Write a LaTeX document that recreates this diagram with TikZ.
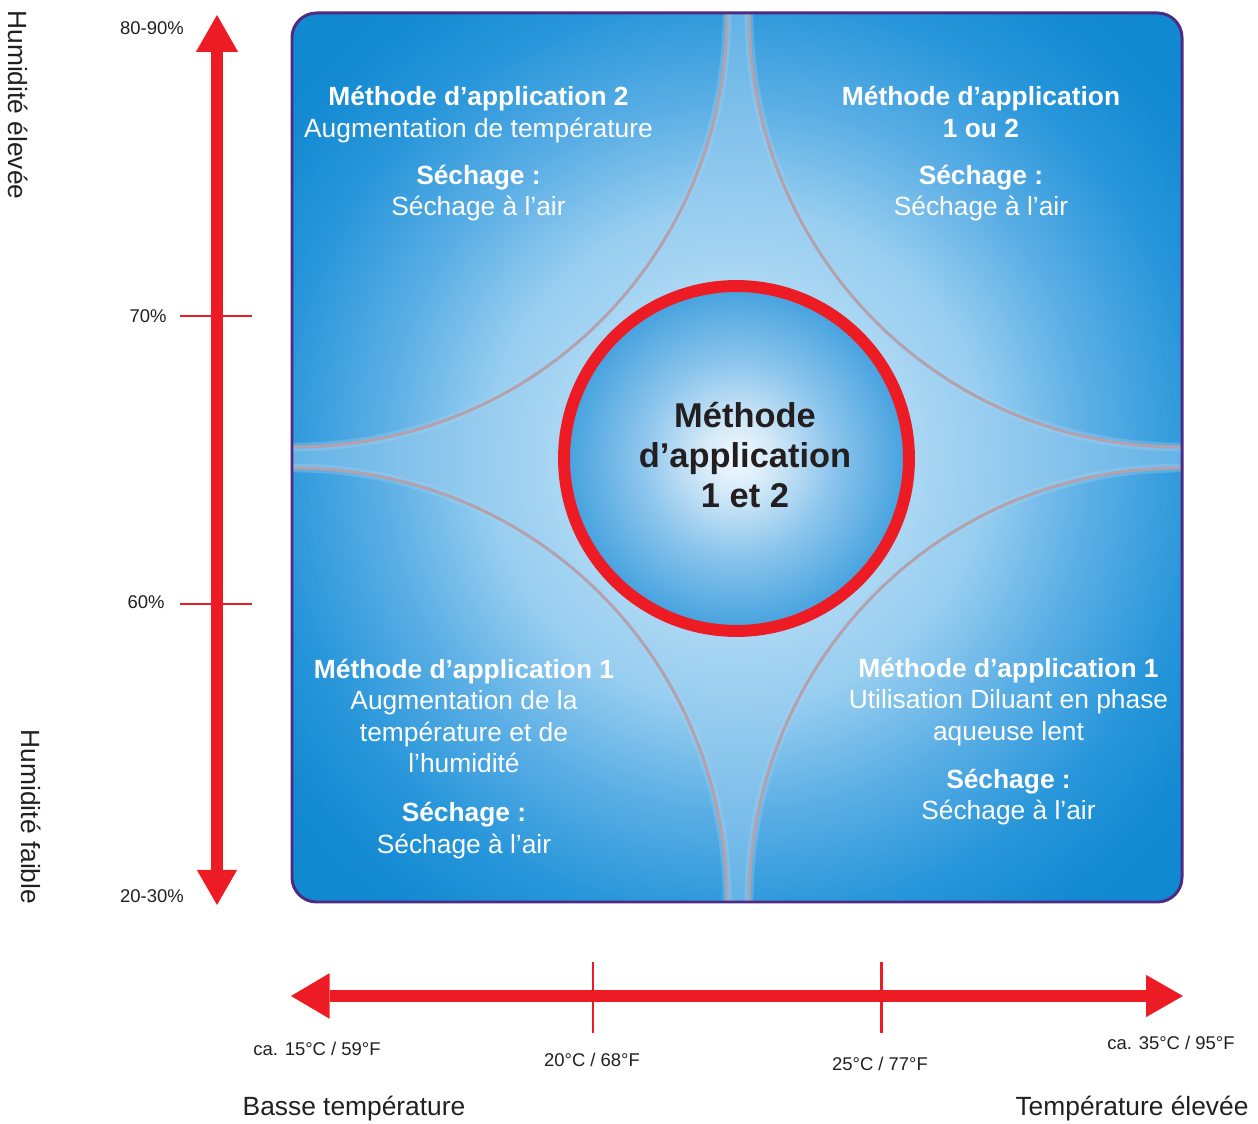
\documentclass[tikz,border=0pt]{standalone}
\usepackage{fontspec}
\setmainfont{Liberation Sans}
\usetikzlibrary{arrows.meta}
\definecolor{axred}{HTML}{ED1C24}
\definecolor{boxedge}{HTML}{4E2A84}
\definecolor{curvecol}{HTML}{B3A2AE}
\definecolor{glowcol}{HTML}{A6D3F2}
\definecolor{txtdark}{HTML}{231F20}
\definecolor{bA}{HTML}{D0E8F9}
\definecolor{bB}{HTML}{98CEF0}
\definecolor{bC}{HTML}{5AAEE5}
\definecolor{bD}{HTML}{2896DA}
\definecolor{bE}{HTML}{138AD2}
\definecolor{bF}{HTML}{0B86CD}
\definecolor{bG}{HTML}{0880C8}
\definecolor{sA}{HTML}{DCEEFB}
\definecolor{sB}{HTML}{AAD7F3}
\definecolor{sC}{HTML}{86C3EC}
\definecolor{sD}{HTML}{68B5E7}
\definecolor{sE}{HTML}{45A4E0}
\definecolor{sF}{HTML}{3399DB}
\definecolor{cA}{HTML}{F2F9FE}
\definecolor{cB}{HTML}{D5EAF8}
\definecolor{cC}{HTML}{8CC5EC}
\definecolor{cD}{HTML}{4AA4E0}
\definecolor{cE}{HTML}{1286D0}
\pgfdeclareradialshading{boxshade}{\pgfpoint{0bp}{0bp}}{color(0bp)=(bA); color(14bp)=(bB); color(20bp)=(bC); color(26bp)=(bD); color(31bp)=(bE); color(42bp)=(bF); color(50bp)=(bG)}
\pgfdeclareradialshading{starshade}{\pgfpoint{0bp}{0bp}}{color(0bp)=(sA); color(10bp)=(sB); color(18bp)=(sC); color(24bp)=(sD); color(33bp)=(sE); color(50bp)=(sF)}
\pgfdeclareradialshading{circshade}{\pgfpoint{0bp}{0bp}}{color(0bp)=(cA); color(5bp)=(cB); color(14bp)=(cC); color(24bp)=(cD); color(35bp)=(cE); color(50bp)=(cE)}
\tikzset{
  qtext/.style={text=white, align=center, font=\fontsize{15}{17.9}\selectfont, inner sep=0pt, anchor=base},
  ctext/.style={text=txtdark, align=center, font=\fontsize{19.6}{23}\selectfont\bfseries, inner sep=0pt, anchor=base},
  smalllab/.style={text=txtdark, font=\fontsize{10.5}{12}\selectfont, inner sep=0pt},
  biglab/.style={text=txtdark, font=\fontsize{15}{18}\selectfont, inner sep=0pt},
  axisline/.style={draw=axred, line width=6.8pt},
  tickline/.style={draw=axred, line width=1.7pt},
  curveline/.style={draw=curvecol, line width=1.7pt},
  curveglow/.style={draw=glowcol, line width=5pt, draw opacity=0.3},
}
\begin{document}
\begin{tikzpicture}[x=0.02cm,y=-0.02cm]
\useasboundingbox (0,0) rectangle (1258,1124);
% main box
\path[shading=boxshade, rounded corners=14pt] (292,13) rectangle (1182,902);
% star region
\path[shading=starshade]
  (727,14) .. controls (727,250) and (540,447) .. (293,447) -- (293,468)
  .. controls (540,468) and (727,665) .. (727,901) -- (749,901)
  .. controls (749,665) and (936,468) .. (1181,468) -- (1181,447)
  .. controls (936,447) and (749,250) .. (749,14) -- cycle;
\begin{scope}
\clip[rounded corners=14pt] (292,13) rectangle (1182,902);
\draw[curveglow] (727,14) .. controls (727,250) and (540,447) .. (293,447);
\draw[curveglow] (293,468) .. controls (540,468) and (727,665) .. (727,901);
\draw[curveglow] (749,901) .. controls (749,665) and (936,468) .. (1181,468);
\draw[curveglow] (1181,447) .. controls (936,447) and (749,250) .. (749,14);
\end{scope}
\draw[curveline] (727,14) .. controls (727,250) and (540,447) .. (293,447);
\draw[curveline] (293,468) .. controls (540,468) and (727,665) .. (727,901);
\draw[curveline] (749,901) .. controls (749,665) and (936,468) .. (1181,468);
\draw[curveline] (1181,447) .. controls (936,447) and (749,250) .. (749,14);
\draw[draw=boxedge, line width=1.7pt, rounded corners=14pt] (292,13) rectangle (1182,902);
% central circle
\node[circle, inner sep=0pt, minimum size=6.9cm, shading=circshade, draw=axred, line width=6.8pt] (c) at (736.5,458.5) {};
\node[ctext] (ct) at (745,508) {Méthode\\d’application\\1 et 2};
% quadrant texts (anchored at the baseline of their last line)
\node[qtext] (tl) at (478.5,216) {\textbf{Méthode d’application 2}\\Augmentation de température\\[9pt]\textbf{Séchage :}\\Séchage à l'air};
\node[qtext] (tr) at (981,216) {\textbf{Méthode d’application}\\\textbf{1 ou 2}\\[9pt]\textbf{Séchage :}\\Séchage à l'air};
\node[qtext] (bl) at (464,853) {\textbf{Méthode d’application 1}\\Augmentation de la\\température et de\\l'humidité\\[10pt]\textbf{Séchage :}\\Séchage à l'air};
\node[qtext] (br) at (1008.5,820) {\textbf{Méthode d’application 1}\\Utilisation Diluant en phase\\aqueuse lent\\[9.5pt]\textbf{Séchage :}\\Séchage à l'air};
% vertical axis
\coordinate (vtop) at (217,15);
\coordinate (vbot) at (217,905);
\draw[axisline, {Triangle[length=21pt,width=24pt,line width=0pt]}-{Triangle[length=20pt,width=23pt,line width=0pt]}] (vtop) -- (vbot);
\draw[tickline] (180,316) -- (252,316);
\draw[tickline] (180,604) -- (252,604);
\node[smalllab] (h8090) at (152,28) {80-90\%};
\node[smalllab] (h70) at (148,316) {70\%};
\node[smalllab] (h60) at (146,602) {60\%};
\node[smalllab] (h2030) at (152,896) {20-30\%};
\node[biglab, rotate=-90] (hhigh) at (18,105) {Humidité élevée};
\node[biglab, rotate=-90] (hlow) at (31,817) {Humidité faible};
% horizontal axis
\coordinate (hleft) at (291,996);
\coordinate (hright) at (1183,996);
\draw[axisline, {Triangle[length=22pt,width=26pt,line width=0pt]}-{Triangle[length=21pt,width=24pt,line width=0pt]}] (hleft) -- (hright);
\draw[tickline] (593,962) -- (593,1033);
\draw[tickline] (881,962) -- (881,1033);
\node[smalllab] (t15) at (317,1049) {ca. 15°C / 59°F};
\node[smalllab] (t20) at (592,1060) {20°C / 68°F};
\node[smalllab] (t25) at (880,1064) {25°C / 77°F};
\node[smalllab] (t35) at (1171,1043) {ca. 35°C / 95°F};
\node[biglab] (tlow) at (354,1109) {Basse température};
\node[biglab] (thigh) at (1132,1109) {Température élevée};
\end{tikzpicture}
\end{document}
